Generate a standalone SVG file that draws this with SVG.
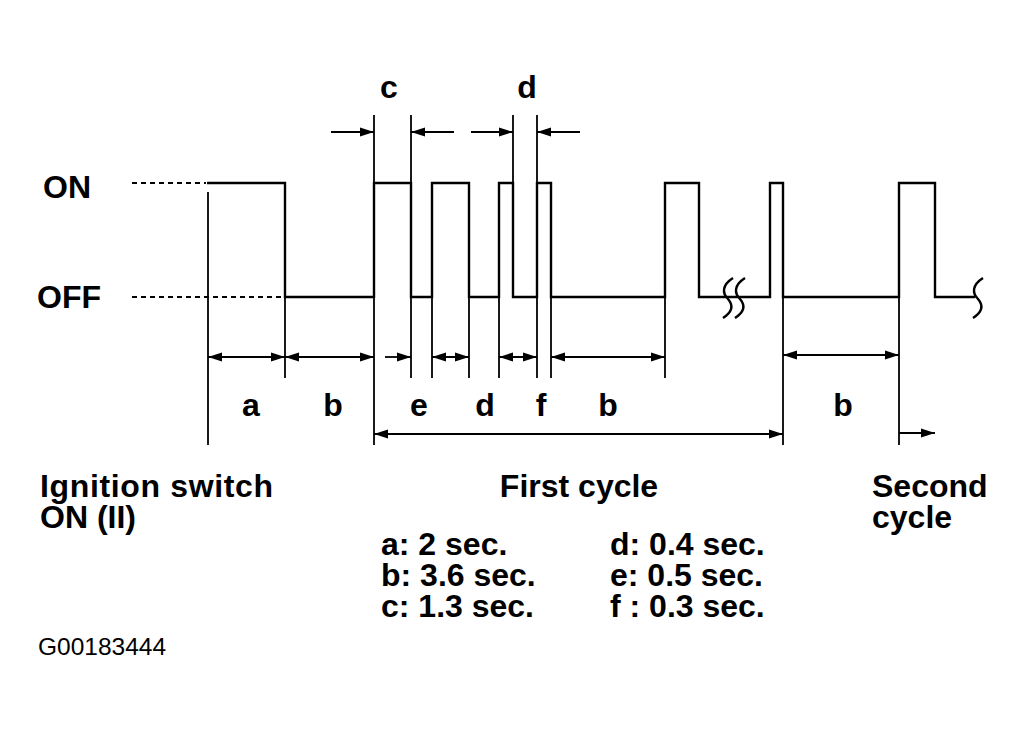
<svg xmlns="http://www.w3.org/2000/svg" width="1024" height="729" viewBox="0 0 1024 729">
<style>
.t{font-family:"Liberation Sans",Arial,sans-serif;font-weight:bold;font-size:32px;fill:#000}
.s{font-family:"Liberation Sans",Arial,sans-serif;font-size:24.5px;fill:#000}
.w{fill:none;stroke:#000;stroke-width:2.4}
.m{fill:none;stroke:#000;stroke-width:1.8}
.dash{fill:none;stroke:#000;stroke-width:2;stroke-dasharray:5 4}
.a{fill:none;stroke:#000;stroke-width:1.8}
</style>
<defs>
<marker id="ah" viewBox="0 0 14 10" refX="14" refY="5" markerWidth="14" markerHeight="10" markerUnits="userSpaceOnUse" orient="auto-start-reverse">
<path d="M0,0.5 L14,5 L0,9.5 Z" fill="#000"/>
</marker>
</defs>
<rect width="1024" height="729" fill="#fff"/>

<g id="levels">
<text class="t" x="43" y="198">ON</text>
<text class="t" x="37" y="308">OFF</text>
<line class="dash" x1="132" y1="183" x2="206" y2="183"/>
<line class="dash" x1="132" y1="297" x2="285" y2="297"/>
</g>

<g id="waveform">
<path class="w" d="M207,183 H285 V297 H374 V183 H411 V297 H432 V183 H469 V297 H499 V183 H513 V297 H537 V183 H551 V297 H665 V183 H699 V297 H770 V183 H783 V297 H899 V183 H935 V297 H975"/>
<path class="w" d="M733,278 C722,285 722,293 728,299 C734,306 732,312 723,318"/>
<path class="w" d="M745,278 C734,285 734,293 740,299 C746,306 744,312 735,318"/>
<path class="w" d="M983,278 C972,285 972,293 978,299 C984,306 982,312 973,318"/>
</g>

<g id="connectors">
<line class="m" x1="208" y1="192" x2="208" y2="445"/>
<line class="m" x1="285" y1="297" x2="285" y2="378"/>
<line class="m" x1="374" y1="115" x2="374" y2="445"/>
<line class="m" x1="411" y1="115" x2="411" y2="378"/>
<line class="m" x1="432" y1="297" x2="432" y2="378"/>
<line class="m" x1="469" y1="297" x2="469" y2="378"/>
<line class="m" x1="499" y1="297" x2="499" y2="378"/>
<line class="m" x1="513" y1="115" x2="513" y2="183"/>
<line class="m" x1="537" y1="115" x2="537" y2="378"/>
<line class="m" x1="551" y1="297" x2="551" y2="378"/>
<line class="m" x1="665" y1="297" x2="665" y2="378"/>
<line class="m" x1="783" y1="297" x2="783" y2="445"/>
<line class="m" x1="899" y1="297" x2="899" y2="445"/>

<line class="a" x1="331" y1="132" x2="374" y2="132" marker-end="url(#ah)"/>
<line class="a" x1="454" y1="132" x2="411" y2="132" marker-end="url(#ah)"/>
<line class="a" x1="471" y1="132" x2="513" y2="132" marker-end="url(#ah)"/>
<line class="a" x1="580" y1="132" x2="537" y2="132" marker-end="url(#ah)"/>

<line class="a" x1="208" y1="357" x2="285" y2="357" marker-start="url(#ah)" marker-end="url(#ah)"/>
<line class="a" x1="285" y1="357" x2="374" y2="357" marker-start="url(#ah)" marker-end="url(#ah)"/>
<line class="a" x1="385" y1="357" x2="411" y2="357" marker-end="url(#ah)"/>
<line class="a" x1="432" y1="357" x2="469" y2="357" marker-start="url(#ah)" marker-end="url(#ah)"/>
<line class="a" x1="499" y1="357" x2="537" y2="357" marker-start="url(#ah)" marker-end="url(#ah)"/>
<line class="a" x1="551" y1="357" x2="665" y2="357" marker-start="url(#ah)" marker-end="url(#ah)"/>
<line class="a" x1="783" y1="355" x2="899" y2="355" marker-start="url(#ah)" marker-end="url(#ah)"/>
<line class="a" x1="374" y1="434" x2="783" y2="434" marker-start="url(#ah)" marker-end="url(#ah)"/>
<line class="a" x1="899" y1="433" x2="935" y2="433" marker-end="url(#ah)"/>
</g>

<g id="interval-labels">
<text class="t" x="389" y="98" text-anchor="middle">c</text>
<text class="t" x="527" y="98" text-anchor="middle">d</text>
<text class="t" x="251" y="416" text-anchor="middle">a</text>
<text class="t" x="333" y="416" text-anchor="middle">b</text>
<text class="t" x="419" y="416" text-anchor="middle">e</text>
<text class="t" x="485" y="416" text-anchor="middle">d</text>
<text class="t" x="541" y="416" text-anchor="middle">f</text>
<text class="t" x="608" y="416" text-anchor="middle">b</text>
<text class="t" x="843" y="416" text-anchor="middle">b</text>
</g>

<g id="captions">
<text class="t" x="40" y="497" textLength="233" lengthAdjust="spacing">Ignition switch</text>
<text class="t" x="40" y="528">ON (II)</text>
<text class="t" x="579" y="497" text-anchor="middle">First cycle</text>
<text class="t" x="872" y="497">Second</text>
<text class="t" x="872" y="528">cycle</text>
</g>

<g id="legend">
<text class="t" x="381" y="555">a: 2 sec.</text>
<text class="t" x="381" y="586">b: 3.6 sec.</text>
<text class="t" x="381" y="617">c: 1.3 sec.</text>
<text class="t" x="610" y="555">d: 0.4 sec.</text>
<text class="t" x="610" y="586">e: 0.5 sec.</text>
<text class="t" x="610" y="617">f : 0.3 sec.</text>
</g>

<text class="s" x="38" y="655">G00183444</text>
</svg>
